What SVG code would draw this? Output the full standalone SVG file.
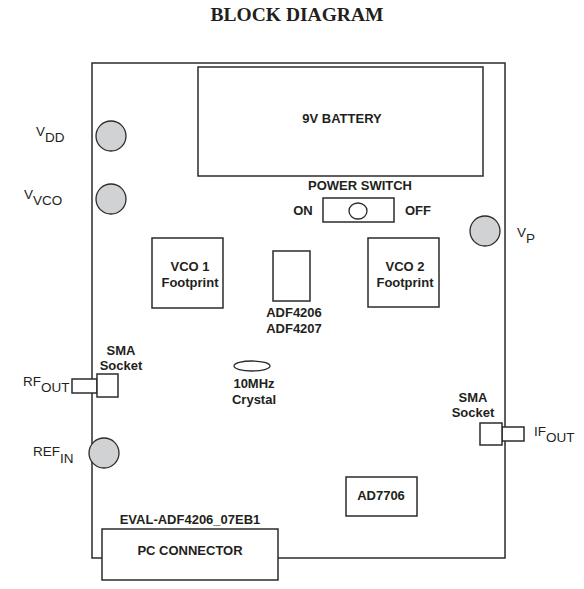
<svg xmlns="http://www.w3.org/2000/svg" width="584" height="589" viewBox="0 0 584 589">
<style>
.box{fill:#fff;stroke:#2b2b2b;stroke-width:1.5}
.jack{fill:#d1d2d4;stroke:#2b2b2b;stroke-width:1.3}
.b{font-family:"Liberation Sans",Arial,sans-serif;font-weight:bold;font-size:13px;fill:#231f20;text-anchor:middle}
.r{font-family:"Liberation Sans",Arial,sans-serif;font-size:13.5px;fill:#231f20}
.t{font-family:"Liberation Serif","Times New Roman",serif;font-weight:bold;font-size:19.5px;fill:#231f20;text-anchor:middle}
</style>
<rect width="584" height="589" fill="#fff"/>
<text class="t" x="297" y="21">BLOCK DIAGRAM</text>
<g id="board"><rect class="box" x="92" y="63" width="413" height="495"/></g>
<g id="battery"><rect class="box" x="198" y="67" width="285" height="109"/><text class="b" x="342" y="123">9V BATTERY</text></g>
<g id="power-switch">
<text class="b" x="360" y="190">POWER SWITCH</text>
<rect class="box" x="323" y="198" width="71" height="24"/>
<ellipse cx="358" cy="211" rx="9" ry="8" fill="#fff" stroke="#2b2b2b" stroke-width="1.3"/>
<text class="b" x="303" y="215">ON</text>
<text class="b" x="418" y="215">OFF</text>
</g>
<g id="vdd"><circle class="jack" cx="111" cy="136" r="15"/><text class="r" x="36" y="136">V<tspan dy="6">DD</tspan></text></g>
<g id="vvco"><circle class="jack" cx="111" cy="199" r="15"/><text class="r" x="24" y="199">V<tspan dy="6">VCO</tspan></text></g>
<g id="vp"><circle class="jack" cx="485" cy="231" r="15"/><text class="r" x="517" y="237">V<tspan dy="6">P</tspan></text></g>
<g id="vco1"><rect class="box" x="152" y="238" width="71" height="70"/><text class="b" x="190" y="271">VCO 1</text><text class="b" x="190" y="287">Footprint</text></g>
<g id="adf"><rect class="box" x="273" y="251" width="37" height="50"/><text class="b" x="294" y="317">ADF4206</text><text class="b" x="294" y="333">ADF4207</text></g>
<g id="vco2"><rect class="box" x="368" y="238" width="71" height="69"/><text class="b" x="405" y="271">VCO 2</text><text class="b" x="405" y="287">Footprint</text></g>
<g id="crystal"><ellipse cx="252" cy="366" rx="18" ry="5" fill="#fff" stroke="#2b2b2b" stroke-width="1.3"/><text class="b" x="254" y="388">10MHz</text><text class="b" x="254" y="404">Crystal</text></g>
<g id="rf-out">
<text class="b" x="121" y="355">SMA</text><text class="b" x="121" y="370">Socket</text>
<rect class="box" x="72" y="379" width="25" height="14"/>
<rect class="box" x="97" y="374" width="21" height="23"/>
<text class="r" x="23" y="386">RF<tspan dy="6">OUT</tspan></text>
</g>
<g id="ref-in"><circle class="jack" cx="104" cy="453" r="15"/><text class="r" x="33" y="456">REF<tspan dy="7">IN</tspan></text></g>
<g id="if-out">
<text class="b" x="473" y="402">SMA</text><text class="b" x="473" y="417">Socket</text>
<rect class="box" x="502" y="427" width="22" height="14"/>
<rect class="box" x="480" y="423" width="22" height="22"/>
<text class="r" x="534" y="436">IF<tspan dy="6">OUT</tspan></text>
</g>
<g id="ad7706"><rect class="box" x="346" y="477" width="71" height="39"/><text class="b" x="381" y="500">AD7706</text></g>
<g id="pc-connector">
<text class="b" x="190" y="524">EVAL-ADF4206_07EB1</text>
<rect class="box" x="102" y="529" width="176" height="51"/>
<text class="b" x="190" y="555">PC CONNECTOR</text>
</g>
<g id="connectors"></g>
</svg>
